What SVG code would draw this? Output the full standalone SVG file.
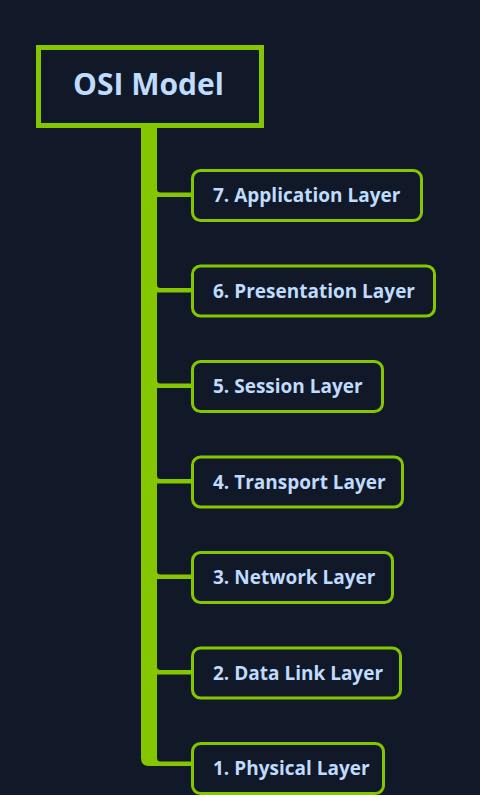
<svg xmlns="http://www.w3.org/2000/svg" width="480" height="795" viewBox="0 0 480 795">
<style>
.bg{fill:#111827}
.node rect{fill:#111827;stroke:#84c700;stroke-width:3}
.node text{font-family:"Open Sans","DejaVu Sans",sans-serif;font-weight:700;font-size:19px;fill:#bfdbfe}
.root rect{fill:#111827;stroke:#84c700;stroke-width:5}
.root text{font-family:"Open Sans","DejaVu Sans",sans-serif;font-weight:700;font-size:30px;fill:#bfdbfe}
.link{fill:#84c700}
</style>
<defs>
<path id="br" d="M157,-2.5 H192 V2 H157 Z M157,-2.5 V-6 Q157,-2.5 160.5,-2.5 Z"/>
</defs>
<rect class="bg" x="0" y="0" width="480" height="795"/>
<g id="connectors" class="link">
<path d="M141,126 H157 V766 H149 Q141,766 141,758 Z"/>
<use href="#br" y="195"/>
<use href="#br" y="290.5"/>
<use href="#br" y="386"/>
<use href="#br" y="481.5"/>
<use href="#br" y="577"/>
<use href="#br" y="672.5"/>
<use href="#br" y="764"/>
</g>
<g id="root" class="root">
<rect x="38.5" y="47.5" width="223" height="78"/>
<text x="148.5" y="95" text-anchor="middle">OSI Model</text>
</g>
<g id="n7" class="node"><rect x="192.5" y="170.5" width="229" height="50" rx="8"/><text x="213" y="202">7. Application Layer</text></g>
<g id="n6" class="node"><rect x="192.5" y="266" width="242" height="50" rx="8"/><text x="213" y="297.5">6. Presentation Layer</text></g>
<g id="n5" class="node"><rect x="192.5" y="361.5" width="190" height="50" rx="8"/><text x="213" y="393">5. Session Layer</text></g>
<g id="n4" class="node"><rect x="192.5" y="457" width="210" height="50" rx="8"/><text x="213" y="488.5">4. Transport Layer</text></g>
<g id="n3" class="node"><rect x="192.5" y="552.5" width="200" height="50" rx="8"/><text x="213" y="584">3. Network Layer</text></g>
<g id="n2" class="node"><rect x="192.5" y="648" width="208" height="50" rx="8"/><text x="213" y="679.5">2. Data Link Layer</text></g>
<g id="n1" class="node"><rect x="192.5" y="743.5" width="191" height="50" rx="8"/><text x="213" y="775">1. Physical Layer</text></g>
</svg>
